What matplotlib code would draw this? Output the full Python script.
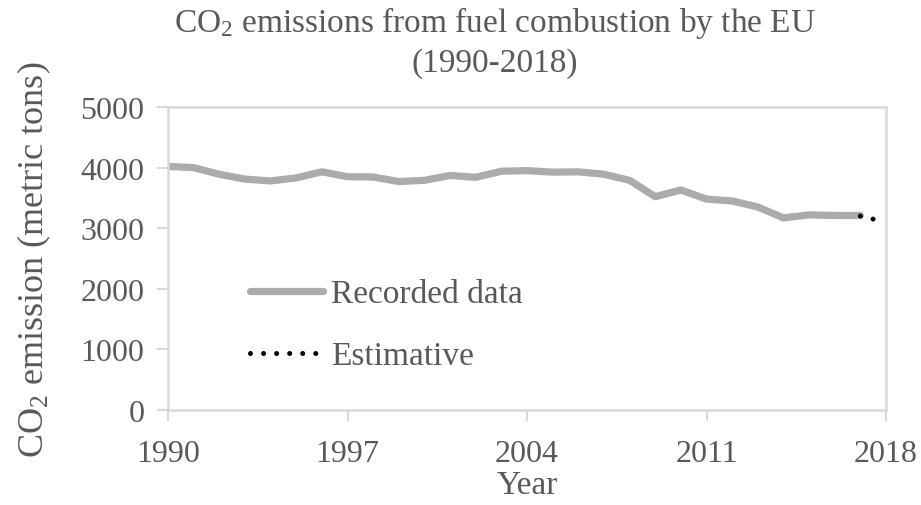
import matplotlib
matplotlib.use("Agg")
import matplotlib.pyplot as plt

years = list(range(1990, 2018))
recorded = [4020, 4000, 3890, 3810, 3780, 3830, 3930, 3850, 3845, 3770,
            3790, 3870, 3840, 3940, 3950, 3925, 3930, 3890, 3790, 3520,
            3630, 3480, 3450, 3350, 3170, 3220, 3210, 3210]
est_years = [2017, 2017.5]
estimative = [3200, 3150]
xticks = [1990, 1997, 2004, 2011, 2018]
yticks = [0, 1000, 2000, 3000, 4000, 5000]

txt = "#595959"
spine_c = "#d9d9d9"
plt.rcParams['font.family'] = ['Liberation Serif', 'DejaVu Serif']
plt.rcParams['mathtext.fontset'] = 'custom'
plt.rcParams['mathtext.rm'] = 'Liberation Serif'
plt.rcParams['mathtext.it'] = 'Liberation Serif:italic'
plt.rcParams['mathtext.default'] = 'rm'

fig = plt.figure(figsize=(9.21, 5.06), dpi=100)
ax = fig.add_axes([168/921, 1-411/506, (886-168)/921, (411-108)/506])

ax.plot(years, recorded, color="#ababab", lw=5.2, solid_capstyle="round",
        solid_joinstyle="round", label="Recorded data")
ax.plot(est_years, estimative, color="black", lw=3.6, linestyle=(0, (0.01, 2.6)),
        dash_capstyle="round", label="Estimative")

ax.set_xlim(1990, 2018)
ax.set_ylim(0, 5000)
ax.set_xticks(xticks)
ax.set_yticks(yticks)
for s in ax.spines.values():
    s.set_color(spine_c)
    s.set_linewidth(1.8)
ax.tick_params(axis="both", colors=spine_c, width=1.5, length=8,
               labelsize=23, labelcolor=txt)
ax.tick_params(axis="x", pad=13)
ax.tick_params(axis="y", pad=9)

ax.set_xlabel("Year", fontsize=24, color=txt, labelpad=1)
ax.set_ylabel("CO$_2$ emission (metric tons)", fontsize=26, color=txt, labelpad=20)
fig.text(0.537, 0.99, "CO$_2$ emissions from fuel combustion by the EU\n(1990-2018)",
         ha="center", va="top", fontsize=24, color=txt, linespacing=1.3)

leg = ax.legend(loc="upper left", bbox_to_anchor=(0.072, 0.532), frameon=False,
                fontsize=24, labelcolor=txt, handlelength=2.2, handletextpad=0.25,
                labelspacing=0.95)

fig.savefig("out.png", dpi=100)
